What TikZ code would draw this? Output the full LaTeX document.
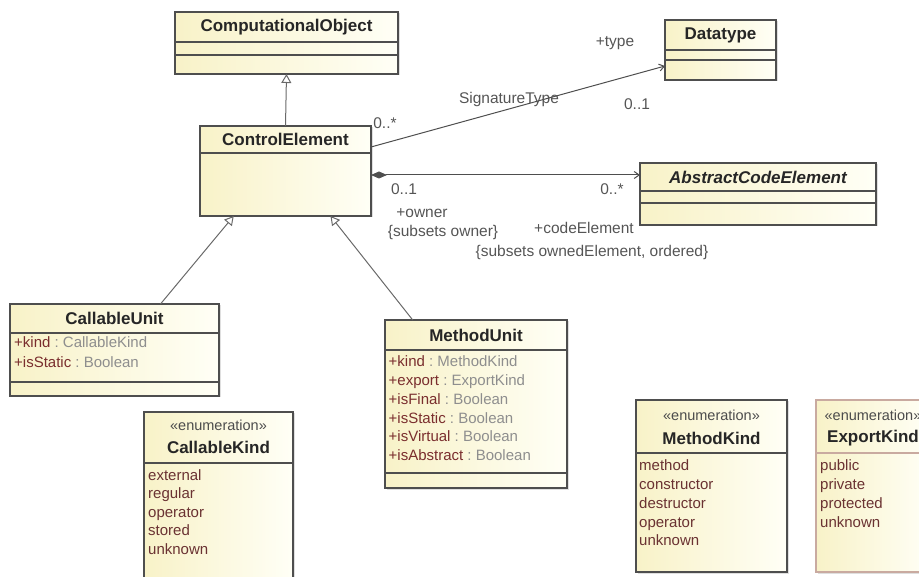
\documentclass[tikz,border=0pt]{standalone}
\usepackage{fontspec}
\setmainfont{Liberation Sans}
\usetikzlibrary{arrows.meta,calc,shadows,positioning}

\definecolor{umlborder}{HTML}{4E4E4E}
\definecolor{umlfillA}{HTML}{F8F2C8}
\definecolor{umlfillB}{HTML}{FFFFF6}
\definecolor{attrname}{HTML}{7A2E2E}
\definecolor{attrtype}{HTML}{8E8E8E}
\definecolor{littext}{HTML}{6A3232}
\definecolor{lbltext}{HTML}{555555}
\definecolor{selborder}{HTML}{C9AAA0}

\tikzset{
  umlclass/.style={draw=umlborder, line width=1.1pt, left color=umlfillA, right color=umlfillB,
    anchor=north west, inner sep=0pt, outer sep=0pt,
    drop shadow={shadow xshift=1.5pt, shadow yshift=-1.5pt, opacity=0.25}},
  umlline/.style={draw=umlborder, line width=1.1pt},
  cname/.style={font=\fontsize{17}{19}\selectfont\bfseries, text=black!85, inner sep=0pt},
  stereo/.style={font=\fontsize{14.5}{16}\selectfont, text=black!70, inner sep=0pt},
  attr/.style={font=\fontsize{15}{17}\selectfont, anchor=base west, inner sep=0pt},
  lit/.style={attr, text=littext},
  lbl/.style={font=\fontsize{15.5}{17}\selectfont, text=lbltext, inner sep=0pt},
  generalize/.style={draw=umlborder!85, line width=1pt, -{Triangle[open, length=9pt, width=10pt, fill=white]}},
  assoc/.style={draw=umlborder, line width=1pt, -{Straight Barb[length=5pt, width=7pt]}},
  compose/.style={draw=umlborder, line width=1pt, {Diamond[length=16pt, width=7pt]}-{Straight Barb[length=5pt, width=7pt]}},
}
\newcommand{\attrtxt}[2]{\textcolor{attrname}{#1}~\textcolor{attrtype}{:~#2}}

\begin{document}
\begin{tikzpicture}[x=1pt, y=-1pt]
\useasboundingbox (0,0) rectangle (919,577);
\clip (0,0) rectangle (919,577);

% ComputationalObject
\node[umlclass, minimum width=223pt, minimum height=62pt] (co) at (175,12) {};
\draw[umlline] ($(co.north west)+(0,30)$) -- ($(co.north east)+(0,30)$);
\draw[umlline] ($(co.north west)+(0,43)$) -- ($(co.north east)+(0,43)$);
\node[cname] at ($(co.north)+(0,15)$) {ComputationalObject};

% ControlElement
\node[umlclass, minimum width=171pt, minimum height=90pt] (ce) at (200,126) {};
\draw[umlline] ($(ce.north west)+(0,27)$) -- ($(ce.north east)+(0,27)$);
\node[cname] at ($(ce.north)+(0,13.5)$) {ControlElement};

% Datatype
\node[umlclass, minimum width=111pt, minimum height=60pt] (dt) at (665,20) {};
\draw[umlline] ($(dt.north west)+(0,30)$) -- ($(dt.north east)+(0,30)$);
\draw[umlline] ($(dt.north west)+(0,40)$) -- ($(dt.north east)+(0,40)$);
\node[cname] at ($(dt.north)+(0,15)$) {Datatype};

% AbstractCodeElement
\node[umlclass, minimum width=236pt, minimum height=62pt] (ace) at (640,163) {};
\draw[umlline] ($(ace.north west)+(0,28)$) -- ($(ace.north east)+(0,28)$);
\draw[umlline] ($(ace.north west)+(0,40)$) -- ($(ace.north east)+(0,40)$);
\node[cname, font=\fontsize{17}{19}\selectfont\bfseries\itshape] at ($(ace.north)+(0,14)$) {AbstractCodeElement};

% CallableUnit
\node[umlclass, minimum width=209pt, minimum height=92pt] (cu) at (10,304) {};
\draw[umlline] ($(cu.north west)+(0,29)$) -- ($(cu.north east)+(0,29)$);
\draw[umlline] ($(cu.north west)+(0,78)$) -- ($(cu.north east)+(0,78)$);
\node[cname] at ($(cu.north)+(0,14.5)$) {CallableUnit};
\node[attr] at ($(cu.north west)+(4,44)$) {\attrtxt{+kind}{CallableKind}};
\node[attr] at ($(cu.north west)+(4,64)$) {\attrtxt{+isStatic}{Boolean}};

% MethodUnit
\node[umlclass, minimum width=182pt, minimum height=168pt] (mu) at (385,320) {};
\draw[umlline] ($(mu.north west)+(0,30)$) -- ($(mu.north east)+(0,30)$);
\draw[umlline] ($(mu.north west)+(0,153)$) -- ($(mu.north east)+(0,153)$);
\node[cname] at ($(mu.north)+(0,15)$) {MethodUnit};
\foreach \n/\t [count=\i from 0] in {+kind/MethodKind, +export/ExportKind, +isFinal/Boolean,
    +isStatic/Boolean, +isVirtual/Boolean, +isAbstract/Boolean}
  \node[attr] at ($(mu.north west)+(3.5,47+18.7*\i)$) {\attrtxt{\n}{\t}};

% CallableKind
\node[umlclass, minimum width=149pt, minimum height=180pt] (ck) at (144,412) {};
\draw[umlline] ($(ck.north west)+(0,51)$) -- ($(ck.north east)+(0,51)$);
\node[stereo] at ($(ck.north)+(0,13)$) {«enumeration»};
\node[cname] at ($(ck.north)+(0,35)$) {CallableKind};
\foreach \t [count=\i from 0] in {external, regular, operator, stored, unknown}
  \node[lit] at ($(ck.north west)+(4,68+18.5*\i)$) {\t};

% MethodKind
\node[umlclass, minimum width=151pt, minimum height=172pt] (mk) at (636,400) {};
\draw[umlline] ($(mk.north west)+(0,53)$) -- ($(mk.north east)+(0,53)$);
\node[stereo] at ($(mk.north)+(0,15)$) {«enumeration»};
\node[cname] at ($(mk.north)+(0,38)$) {MethodKind};
\foreach \t [count=\i from 0] in {method, constructor, destructor, operator, unknown}
  \node[lit] at ($(mk.north west)+(3,71+18.7*\i)$) {\t};

% ExportKind
\node[umlclass, draw=selborder, minimum width=114pt, minimum height=172pt] (ek) at (816,400) {};
\draw[umlline, draw=selborder] ($(ek.north west)+(0,53)$) -- ($(ek.north east)+(0,53)$);
\node[stereo] at ($(ek.north)+(0,15)$) {«enumeration»};
\node[cname] at ($(ek.north)+(0,38)$) {ExportKind};
\foreach \t [count=\i from 0] in {public, private, protected, unknown}
  \node[lit] at ($(ek.north west)+(4,71+18.7*\i)$) {\t};

% generalizations
\draw[generalize] (ce.north) -- (co.south);
\draw[generalize] (cu.45) -- (ce.221);
\draw[generalize] (mu.127) -- (ce.-45);

% associations
\draw[assoc] ($(ce.east)+(0,-24)$) -- ($(dt.west)+(0,16)$);
\draw[compose] ($(ce.east)+(0,4)$) -- ($(ace.west)+(0,-19)$);

% end labels
\node[lbl] at (385,123) {0..*};
\node[lbl] at (509,99) {SignatureType};
\node[lbl] at (615,43) {+type};
\node[lbl] at (637,104) {0..1};
\node[lbl] at (404,189) {0..1};
\node[lbl] at (612,189) {0..*};
\node[lbl] at (422,213) {+owner};
\node[lbl] at (443,232) {\{subsets owner\}};
\node[lbl] at (584,228) {+codeElement};
\node[lbl] at (592,252) {\{subsets ownedElement, ordered\}};
\end{tikzpicture}
\end{document}
